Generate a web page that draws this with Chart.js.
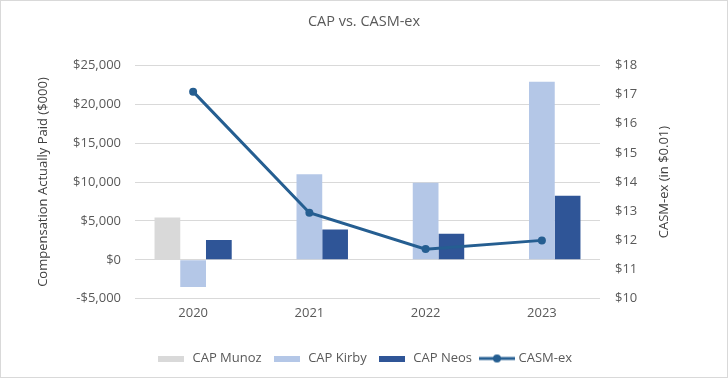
<!DOCTYPE html>
<html>
<head>
<meta charset="utf-8">
<script src="https://cdn.jsdelivr.net/npm/chart.js@4"></script>
<style>
html,body{margin:0;padding:0;background:#fff;}
#wrap{width:728px;height:378px;position:relative;}
</style>
</head>
<body>
<div id="wrap"><canvas id="c" width="728" height="378"></canvas></div>
<script>
const years = ['2020', '2021', '2022', '2023'];
const capMunoz = [5450, null, null, null];
const capKirby = [-3500, 11000, 9900, 22900];
const capNeos = [2550, 3900, 3350, 8250];
const casmEx = [17.10, 12.95, 11.70, 12.00];
const leftTicks = [-5000, 0, 5000, 10000, 15000, 20000, 25000];
const rightTicks = [10, 11, 12, 13, 14, 15, 16, 17, 18];

const FONT = "'Open Sans', 'Noto Sans', sans-serif";
const GREY = '#595959';
const C_MUNOZ = '#d9d9d9', C_KIRBY = '#b4c7e7', C_NEOS = '#2f5597', C_LINE = '#255e91';

function rectImg(color) {
  const cv = document.createElement('canvas');
  cv.width = 26; cv.height = 6;
  const g = cv.getContext('2d');
  g.fillStyle = color; g.fillRect(0, 0, 26, 6);
  return cv;
}
function lineImg(color) {
  const cv = document.createElement('canvas');
  cv.width = 36; cv.height = 10;
  const g = cv.getContext('2d');
  g.strokeStyle = color; g.lineWidth = 3;
  g.beginPath(); g.moveTo(0, 5); g.lineTo(36, 5); g.stroke();
  g.fillStyle = color; g.beginPath(); g.arc(18, 5, 4, 0, Math.PI * 2); g.fill();
  return cv;
}

const fmtMoney = v => (v < 0 ? '-$' : '$') + Math.abs(v).toLocaleString('en-US');

const extras = {
  id: 'extras',
  beforeDraw(chart) {
    const ctx = chart.ctx;
    ctx.save();
    ctx.fillStyle = '#fff';
    ctx.fillRect(0, 0, chart.width, chart.height);
    ctx.restore();
  },
  afterDraw(chart) {
    const ctx = chart.ctx, a = chart.chartArea;
    const cy = (a.top + a.bottom) / 2;
    ctx.save();
    ctx.fillStyle = '#404040';
    ctx.font = '13px ' + FONT;
    ctx.textAlign = 'center';
    ctx.textBaseline = 'middle';
    ctx.translate(43, cy);
    ctx.rotate(-Math.PI / 2);
    ctx.fillText('Compensation Actually Paid ($000)', 0, 0);
    ctx.restore();
    ctx.save();
    ctx.fillStyle = '#404040';
    ctx.font = '13px ' + FONT;
    ctx.textAlign = 'center';
    ctx.textBaseline = 'middle';
    ctx.translate(664, cy);
    ctx.rotate(-Math.PI / 2);
    ctx.fillText('CASM-ex (in $0.01)', 0, 0);
    ctx.restore();
    ctx.save();
    ctx.strokeStyle = '#d9d9d9';
    ctx.lineWidth = 1;
    ctx.strokeRect(0.5, 0.5, chart.width - 1, chart.height - 1);
    ctx.restore();
  }
};

new Chart(document.getElementById('c'), {
  type: 'bar',
  data: {
    labels: years,
    datasets: [
      { label: 'CAP Munoz', data: capMunoz, backgroundColor: C_MUNOZ, yAxisID: 'y', order: 1, categoryPercentage: 0.664, barPercentage: 1 },
      { label: 'CAP Kirby', data: capKirby, backgroundColor: C_KIRBY, yAxisID: 'y', order: 1, categoryPercentage: 0.664, barPercentage: 1 },
      { label: 'CAP Neos', data: capNeos, backgroundColor: C_NEOS, yAxisID: 'y', order: 1, categoryPercentage: 0.664, barPercentage: 1 },
      { type: 'line', label: 'CASM-ex', data: casmEx, borderColor: C_LINE, backgroundColor: C_LINE, borderWidth: 3, pointRadius: 4, pointHoverRadius: 4, pointBackgroundColor: C_LINE, pointBorderWidth: 0, yAxisID: 'y1', order: 0, tension: 0 }
    ]
  },
  options: {
    responsive: false,
    animation: false,
    devicePixelRatio: 1,
    layout: { padding: { top: 0, bottom: 3, left: 0, right: 0 } },
    plugins: {
      tooltip: { enabled: false },
      title: {
        display: true, text: 'CAP vs. CASM-ex', color: GREY,
        font: { family: FONT, size: 14.5, weight: 'normal' },
        padding: { top: 13, bottom: 35 }
      },
      legend: {
        position: 'bottom',
        labels: {
          color: GREY, font: { family: FONT, size: 13 },
          usePointStyle: true, pointStyleWidth: 30, boxHeight: 10, padding: 10,
          generateLabels(chart) {
            const imgs = [rectImg(C_MUNOZ), rectImg(C_KIRBY), rectImg(C_NEOS), lineImg(C_LINE)];
            return chart.data.datasets.map((ds, i) => ({
              text: ds.label, datasetIndex: i, pointStyle: imgs[i],
              fillStyle: ds.backgroundColor, strokeStyle: ds.backgroundColor, lineWidth: 0,
              fontColor: GREY, hidden: false
            }));
          }
        }
      }
    },
    scales: {
      x: {
        afterFit(s) { s.height = 43.3; },
        grid: { display: false, drawTicks: false },
        border: { display: false },
        ticks: { color: GREY, font: { family: FONT, size: 13 }, padding: 6.8 }
      },
      y: {
        position: 'left',
        min: -5000, max: 25000,
        afterFit(s) { s.width = 135; },
        afterBuildTicks(s) { s.ticks = leftTicks.map(v => ({ value: v })); },
        grid: { color: '#d9d9d9', lineWidth: 1, drawTicks: false },
        border: { display: false },
        ticks: { color: GREY, font: { family: FONT, size: 13 }, padding: 14, callback: v => fmtMoney(v) }
      },
      y1: {
        position: 'right',
        min: 10, max: 18,
        afterFit(s) { s.width = 128; },
        afterBuildTicks(s) { s.ticks = rightTicks.map(v => ({ value: v })); },
        grid: { display: false },
        border: { display: false },
        ticks: { color: GREY, font: { family: FONT, size: 13 }, padding: 7, callback: v => '$' + v }
      }
    }
  },
  plugins: [extras]
});
</script>
</body>
</html>
